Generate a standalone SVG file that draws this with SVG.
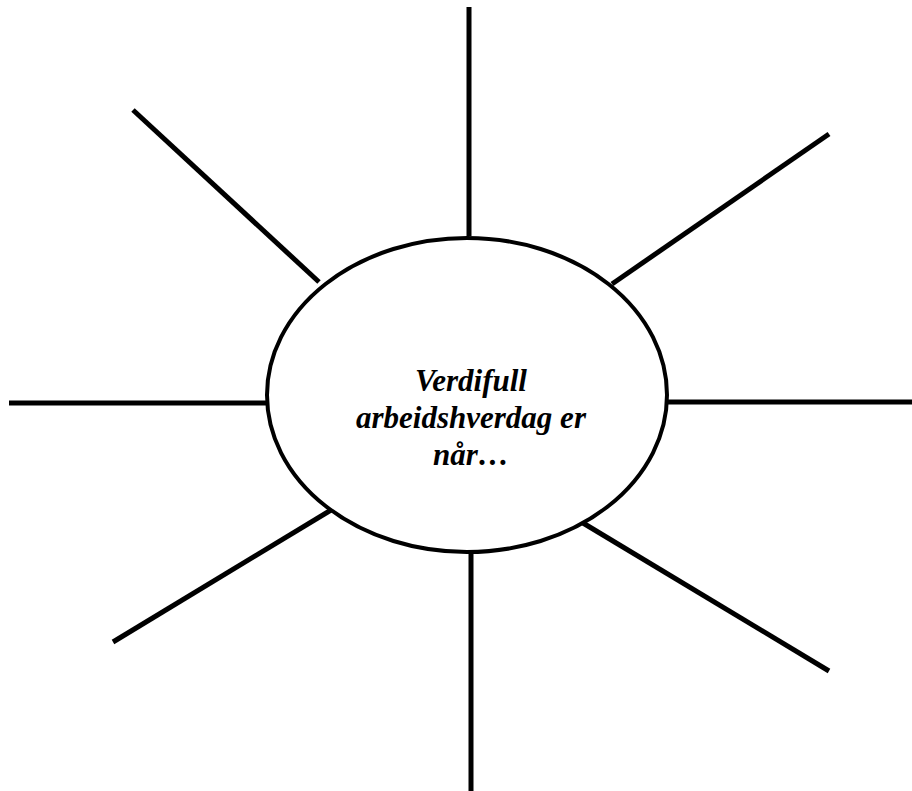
<svg xmlns="http://www.w3.org/2000/svg" width="912" height="791" viewBox="0 0 912 791">
<style>
.ray{stroke:#000;stroke-width:5;fill:none;stroke-linecap:butt}
.hub{fill:#fff;stroke:#000;stroke-width:4}
.lbl{font-family:"Liberation Serif","Times New Roman",serif;font-weight:bold;font-style:italic;font-size:31px;fill:#000;text-anchor:middle}
</style>
<rect width="912" height="791" fill="#fff"/>
<g id="connectors">
<line class="ray" x1="469" y1="7" x2="469" y2="236"/>
<line class="ray" x1="829" y1="134" x2="612" y2="284"/>
<line class="ray" x1="912" y1="402" x2="665" y2="402"/>
<line class="ray" x1="829" y1="671" x2="583" y2="523"/>
<line class="ray" x1="471" y1="791" x2="471" y2="550"/>
<line class="ray" x1="113" y1="642" x2="331" y2="510"/>
<line class="ray" x1="9" y1="403" x2="269" y2="403"/>
<line class="ray" x1="133" y1="110" x2="319" y2="282"/>
</g>
<g id="center">
<ellipse class="hub" cx="467" cy="395" rx="200" ry="157"/>
<text class="lbl" x="471" y="391">Verdifull</text>
<text class="lbl" x="471" y="428">arbeidshverdag er</text>
<text class="lbl" x="471" y="465">når…</text>
</g>
</svg>
